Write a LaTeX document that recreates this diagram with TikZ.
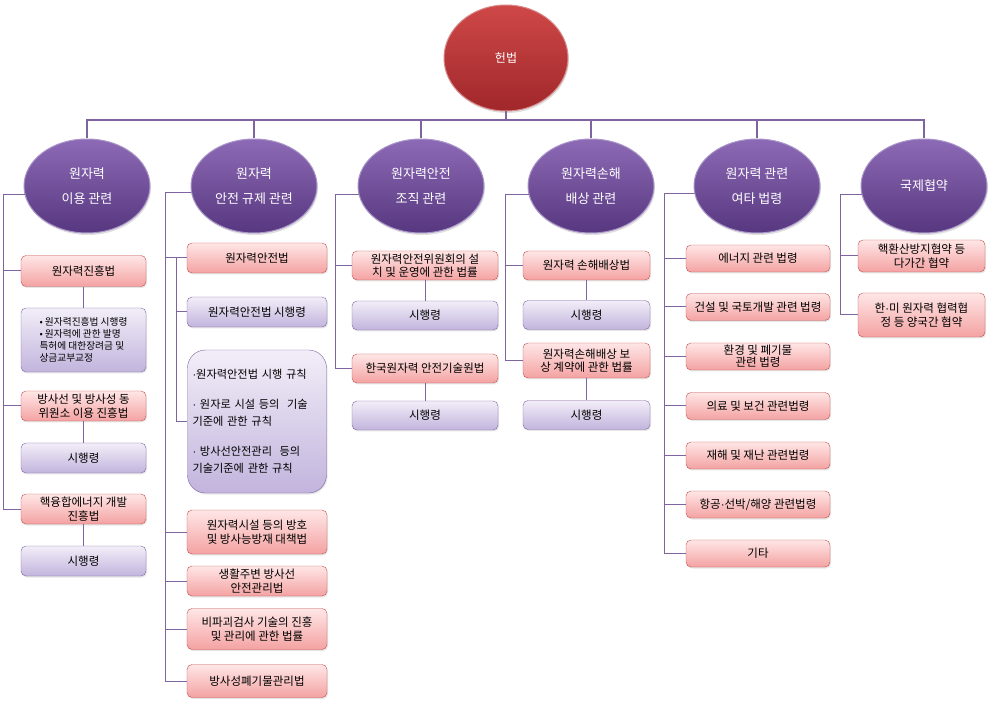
\documentclass[tikz,border=0pt]{standalone}
\usepackage{fontspec}
\setmainfont{Noto Sans CJK KR}
\newfontfamily\latinf{Liberation Sans}
\usetikzlibrary{shapes.geometric}
\usetikzlibrary{shadows}

\definecolor{linkcol}{HTML}{7E659F}
\definecolor{redtop}{HTML}{CF4848}
\definecolor{redbot}{HTML}{A0272A}
\definecolor{redrim}{HTML}{D88A8A}
\definecolor{grptop}{HTML}{8D6AB5}
\definecolor{grpbot}{HTML}{573780}
\definecolor{grprim}{HTML}{A995C9}
\definecolor{lawtop}{HTML}{FFE6E6}
\definecolor{lawbot}{HTML}{F4A2A2}
\definecolor{lawline}{HTML}{C0504D}
\definecolor{subtop}{HTML}{F2EEF8}
\definecolor{subbot}{HTML}{C2B4DD}
\definecolor{subline}{HTML}{8064A2}

\newcommand{\mdot}{{\latinf ·}}

\begin{document}
\begin{tikzpicture}[x=1pt,y=-1pt,
  topell/.style={ellipse,draw=redrim,line width=1pt,top color=redtop,bottom color=redbot,text=white,minimum width=124pt,minimum height=106pt,font=\fontsize{12}{14}\selectfont,drop shadow={opacity=0.25,shadow xshift=1pt,shadow yshift=-2pt}},
  grpell/.style={ellipse,draw=grprim,line width=1pt,top color=grptop,bottom color=grpbot,text=white,minimum width=126pt,minimum height=94pt,align=center,font=\fontsize{13}{25}\selectfont,drop shadow={opacity=0.25,shadow xshift=1pt,shadow yshift=-2pt}},
  lawbox/.style={rectangle,rounded corners=5pt,draw=lawline,top color=lawtop,bottom color=lawbot,align=center,inner sep=1pt,font=\fontsize{11.5}{13.5}\selectfont,drop shadow={opacity=0.2,shadow xshift=1pt,shadow yshift=-1.5pt}},
  subbox/.style={rectangle,rounded corners=5pt,draw=subline,top color=subtop,bottom color=subbot,align=center,inner sep=1pt,font=\fontsize{11.5}{13.5}\selectfont,drop shadow={opacity=0.2,shadow xshift=1pt,shadow yshift=-1.5pt}},
  busline/.style={draw=linkcol,line width=2.5pt},
  link/.style={draw=linkcol,line width=1pt},
  w1/.style={minimum width=125pt,minimum height=30pt},
  w2/.style={minimum width=140pt,minimum height=30pt},
  w3/.style={minimum width=146pt,minimum height=29pt},
  w4/.style={minimum width=127pt,minimum height=29pt},
  w5/.style={minimum width=144pt,minimum height=27pt},
  w6/.style={minimum width=127pt,minimum height=32pt}]
\useasboundingbox (0,0) rectangle (991,708);

\node at (506, 58) (hb) [topell] {헌법};
\node at ( 87,186) (c1) [grpell] {원자력\\이용 관련};
\node at (254,186) (c2) [grpell] {원자력\\안전 규제 관련};
\node at (421,186) (c3) [grpell] {원자력안전\\조직 관련};
\node at (591,186) (c4) [grpell] {원자력손해\\배상 관련};
\node at (757,186) (c5) [grpell] {원자력 관련\\여타 법령};
\node at (924,186) (c6) [grpell] {국제협약};

\coordinate (bus) at (506,120);
\foreach \c in {c1,c2,c3,c4,c5,c6}
  \draw [busline] (hb.south) -- (bus) -| (\c.north);

\coordinate (l1) at (  3,0);
\coordinate (l2) at (165,0);
\coordinate (m2) at (176,0);
\coordinate (l3) at (335,0);
\coordinate (l4) at (505,0);
\coordinate (l5) at (664,0);
\coordinate (l6) at (840,0);

\node at (83.5,271) (b11) [lawbox,w1,minimum height=31pt] {원자력진흥법};
\node at (83.5,340) (b12) [subbox,w1,minimum height=64pt,align=left,font=\fontsize{9.7}{12}\selectfont] {• 원자력진흥법 시행령\\• 원자력에 관한 발명\\특허에 대한장려금 및\\상금교부교정};
\node at (83.5,406) (b13) [lawbox,w1] {방사선 및 방사성 동\\위원소 이용 진흥법};
\node at (83.5,458) (b14) [subbox,w1] {시행령};
\node at (83.5,509) (b15) [lawbox,w1] {핵융합에너지 개발\\진흥법};
\node at (83.5,561) (b16) [subbox,w1] {시행령};

\node at (257,258) (b21) [lawbox,w2] {원자력안전법};
\node at (257,312) (b22) [subbox,w2] {원자력안전법 시행령};
\node at (257,421.5) (b23) [subbox,rounded corners=18pt,minimum height=143pt,text width=129pt,inner xsep=5pt,align=left,font=\fontsize{11.2}{17}\selectfont] {\mdot 원자력안전법 시행 규칙\\[13pt]\mdot{} 원자로 시설 등의~~기술\\기준에 관한 규칙\\[13pt]\mdot{} 방사선안전관리~~등의\\기술기준에 관한 규칙};
\node at (257,532) (b24) [lawbox,w2,minimum height=44pt] {원자력시설 등의 방호\\및 방사능방재 대책법};
\node at (257,581) (b25) [lawbox,w2] {생활주변 방사선\\안전관리법};
\node at (257,629) (b26) [lawbox,w2,minimum height=41pt] {비파괴검사 기술의 진흥\\및 관리에 관한 법률};
\node at (257,681) (b27) [lawbox,w2,minimum height=33pt] {방사성폐기물관리법};

\node at (425,265.5) (b31) [lawbox,w3] {원자력안전위원회의 설\\치 및 운영에 관한 법률};
\node at (425,315.5) (b32) [subbox,w3] {시행령};
\node at (425,368.5) (b33) [lawbox,w3] {한국원자력 안전기술원법};
\node at (425,415.5) (b34) [subbox,w3] {시행령};

\node at (586.5,265.5) (b41) [lawbox,w4] {원자력 손해배상법};
\node at (586.5,315) (b42) [subbox,w4] {시행령};
\node at (586.5,360.5) (b43) [lawbox,w4,minimum height=35pt] {원자력손해배상 보\\상 계약에 관한 법률};
\node at (586.5,415) (b44) [subbox,w4] {시행령};

\node at (758,258.5) (b51) [lawbox,w5] {에너지 관련 법령};
\node at (758,307) (b52) [lawbox,w5] {건설 및 국토개발 관련 법령};
\node at (758,356.5) (b53) [lawbox,w5,font=\fontsize{11.5}{12}\selectfont] {환경 및 폐기물\\관련 법령};
\node at (758,406) (b54) [lawbox,w5] {의료 및 보건 관련법령};
\node at (758,455.5) (b55) [lawbox,w5] {재해 및 재난 관련법령};
\node at (758,504.5) (b56) [lawbox,w5] {항공\mdot 선박/해양 관련법령};
\node at (758,553.5) (b57) [lawbox,w5] {기타};

\node at (921.5,256) (b61) [lawbox,w6] {핵환산방지협약 등\\다가간 협약};
\node at (921.5,315) (b62) [lawbox,w6,minimum height=44pt] {한\mdot 미 원자력 협력협\\정 등 양국간 협약};

\foreach \b in {b11,b13,b15}
  \draw [link] (c1.188) -- (l1 |- c1.188) |- (\b.west);
\foreach \b in {b21,b24,b25,b26,b27}
  \draw [link] (c2.186) -- (l2 |- c2.186) |- (\b.west);
\foreach \b in {b22,b23}
  \draw [link] (m2 |- b21.west) |- (\b.west);
\foreach \b in {b31,b33}
  \draw [link] (c3.188) -- (l3 |- c3.188) |- (\b.west);
\foreach \b in {b41,b43}
  \draw [link] (c4.188) -- (l4 |- c4.188) |- (\b.west);
\foreach \b in {b51,b52,b53,b54,b55,b56,b57}
  \draw [link] (c5.187) -- (l5 |- c5.187) |- (\b.west);
\foreach \b in {b61,b62}
  \draw [link] (c6.188) -- (l6 |- c6.188) |- (\b.west);

\draw [link] (b11.south) -- (b12.north);
\draw [link] (b13.south) -- (b14.north);
\draw [link] (b15.south) -- (b16.north);
\draw [link] (b31.south) -- (b32.north);
\draw [link] (b33.south) -- (b34.north);
\draw [link] (b41.south) -- (b42.north);
\draw [link] (b43.south) -- (b44.north);
\end{tikzpicture}
\end{document}
